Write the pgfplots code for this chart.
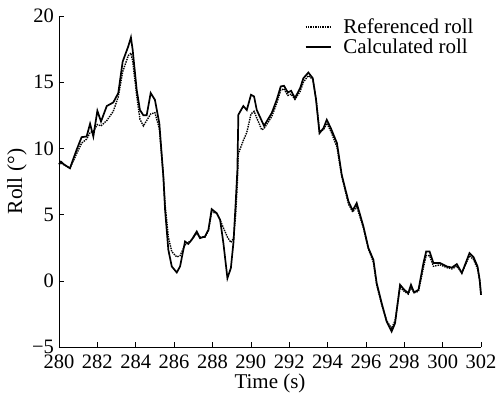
\documentclass[border=0pt]{standalone}
\usepackage{pgfplots}
\pgfplotsset{compat=1.18}
\usepackage{fontspec}
\setmainfont{Liberation Serif}
\pgfplotstableread{
t v
280.0 8.8
280.1 9.0
280.25 8.8
280.57 8.5
280.92 9.9
281.18 10.85
281.44 10.9
281.62 11.86
281.79 10.9
282.0 12.84
282.19 12.03
282.49 13.2
282.83 13.47
283.09 14.18
283.32 16.56
283.61 17.7
283.75 18.38
283.84 17.45
284.05 14.43
284.22 12.9
284.4 12.5
284.57 12.5
284.78 14.18
285.0 13.67
285.23 11.9
285.44 7.88
285.53 5.36
285.7 2.34
285.88 1.08
286.14 0.63
286.31 1.08
286.57 2.97
286.74 2.79
286.92 3.1
287.18 3.72
287.35 3.22
287.61 3.35
287.79 3.85
287.96 5.41
288.22 5.11
288.4 4.6
288.57 2.85
288.78 0.2
288.96 0.96
289.1 2.97
289.21 5.87
289.3 8.38
289.35 12.54
289.61 13.2
289.79 12.9
290.01 14.05
290.17 13.92
290.31 12.9
290.69 11.7
291.09 12.67
291.35 13.67
291.56 14.68
291.73 14.73
291.93 14.22
292.1 14.35
292.3 13.8
292.57 14.55
292.74 15.3
293.0 15.73
293.23 15.3
293.4 13.67
293.58 11.15
293.79 11.53
293.96 12.16
294.17 11.53
294.49 10.4
294.74 8.0
295.09 5.99
295.31 5.31
295.52 5.87
295.87 4.1
296.13 2.47
296.39 1.59
296.56 -0.17
296.82 -1.68
297.08 -3.07
297.34 -3.83
297.52 -3.2
297.78 -0.3
298.0 -0.68
298.21 -0.93
298.35 -0.3
298.51 -0.88
298.74 -0.68
299.0 1.34
299.14 2.21
299.32 2.21
299.52 1.34
299.87 1.34
300.22 1.08
300.48 1.0
300.74 1.26
301.0 0.58
301.4 2.09
301.61 1.79
301.82 1.08
301.93 0.08
302.0 -1.06
}\calc
\pgfplotstableread{
t v
280.0 8.8
280.1 8.9
280.57 8.5
280.92 9.6
281.18 10.4
281.44 10.7
281.62 11.2
281.79 11.3
282.0 11.8
282.19 11.7
282.49 12.1
282.83 12.8
283.09 13.9
283.32 15.8
283.61 17.0
283.75 17.2
283.84 16.6
284.05 14.0
284.22 12.2
284.4 11.7
284.57 12.1
284.78 12.6
285.0 12.7
285.23 11.5
285.44 7.9
285.53 5.8
285.7 3.3
285.88 2.2
286.14 1.8
286.31 1.9
286.57 2.7
286.74 2.9
286.92 3.1
287.18 3.6
287.35 3.3
287.61 3.3
287.79 3.8
287.96 5.2
288.22 5.1
288.4 4.6
288.57 4.0
288.78 3.3
288.96 2.9
289.1 3.2
289.21 5.0
289.3 7.5
289.35 9.6
289.61 10.6
289.79 11.2
290.01 12.6
290.17 12.8
290.31 12.3
290.57 11.4
290.69 11.5
291.09 12.4
291.35 13.4
291.56 14.4
291.73 14.5
291.93 14.0
292.1 14.1
292.3 13.7
292.57 14.3
292.74 15.0
293.0 15.5
293.23 15.2
293.4 13.8
293.58 11.3
293.79 11.4
293.96 11.9
294.17 11.3
294.49 10.1
294.74 7.9
295.09 5.8
295.31 5.2
295.52 5.6
295.87 4.0
296.13 2.4
296.39 1.4
296.56 -0.3
296.82 -1.8
297.08 -3.0
297.34 -3.6
297.52 -3.0
297.78 -0.5
298.0 -0.8
298.21 -1.0
298.35 -0.5
298.51 -0.9
298.74 -0.8
299.0 1.0
299.14 1.9
299.32 1.9
299.52 1.1
299.87 1.2
300.22 1.0
300.48 0.9
300.74 1.1
301.0 0.6
301.4 1.9
301.61 1.6
301.82 0.9
301.93 0.0
302.0 -1.0
}\refr
\begin{document}
\begin{tikzpicture}
\begin{axis}[
  name=ax,
  scale only axis,
  width=422pt, height=331pt,
  xmin=280, xmax=302, ymin=-5, ymax=20,
  xtick={280,282,...,302},
  ytick={-5,0,5,10,15,20},
  yticklabels={−5,0,5,10,15,20},
  axis lines=left,
  axis line style={-, line width=0.9pt},
  tick style={black, line width=0.6pt},
  tick align=inside,
  major tick length=5pt,
  /pgf/number format/assume math mode=true,
  x tick label style={/pgf/number format/1000 sep={}, yshift=-4pt},
  y tick label style={xshift=-1.5pt},
  ticklabel style={font=\fontsize{20.5}{22}\selectfont},
  xlabel={Time (s)},
  ylabel={Roll (°)},
  xlabel style={font=\fontsize{21}{23}\selectfont, at={(axis description cs:0.5,0)}, anchor=center, yshift=-36pt},
  ylabel style={font=\fontsize{21.5}{23}\selectfont, at={(axis description cs:0,0.5)}, anchor=center, yshift=42pt},
  legend style={draw=none, fill=none, at={(rel axis cs:0.985,0.995)}, anchor=north east,
    font=\fontsize{21}{22}\selectfont, row sep=2pt, inner sep=0pt,
    nodes={inner sep=1pt},
    /tikz/column 1/.style={column sep=11pt}},
  legend cell align=left,
  legend image code/.code={\draw[#1] (0pt,0pt) -- (25pt,0pt);},
  clip=false,
]
\addplot[black, densely dotted, line width=1.4pt] table[x=t,y=v] {\refr};
\addlegendentry{Referenced roll}
\addplot[black, line width=1.7pt] table[x=t,y=v] {\calc};
\addlegendentry{Calculated roll}
\end{axis}
\pgfresetboundingbox
\path[use as bounding box] ([shift={(-59pt,-54pt)}]ax.south west) rectangle ([shift={(16pt,16pt)}]ax.north east);
\end{tikzpicture}
\end{document}
